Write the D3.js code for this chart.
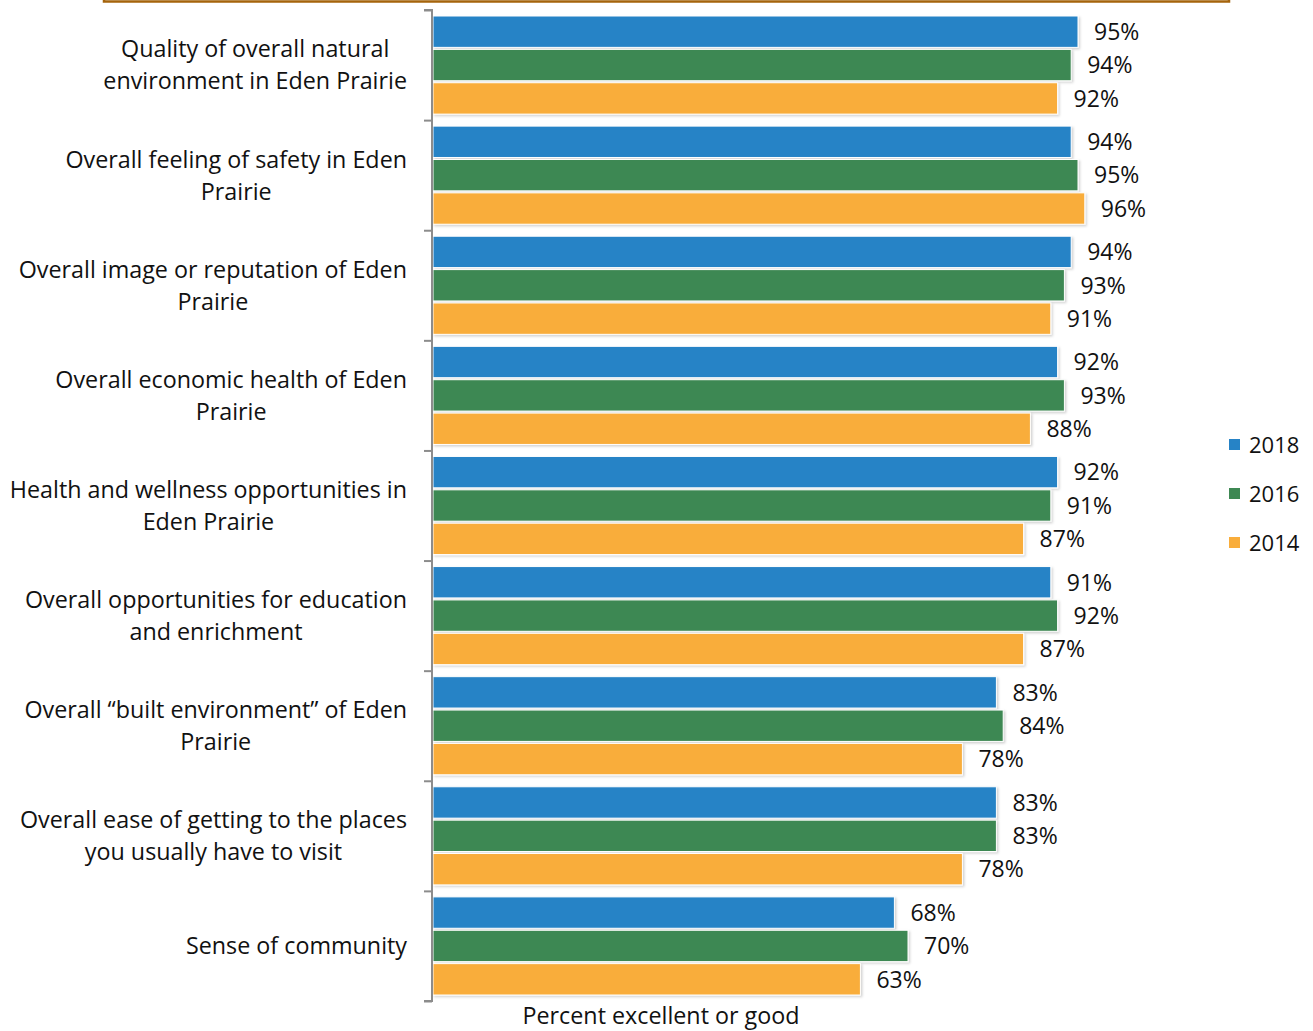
<!DOCTYPE html>
<html><head><meta charset="utf-8">
<script src="https://cdn.jsdelivr.net/npm/d3@7"></script>
<style>body{margin:0;background:#fff}svg{display:block}text{font-family:"Open Sans",Lato,sans-serif;fill:#111}</style>
</head><body>
<svg id="c" width="1313" height="1031"></svg>
<script>
const categories = [
  ["Quality of overall natural","environment in Eden Prairie"],
  ["Overall feeling of safety in Eden","Prairie"],
  ["Overall image or reputation of Eden","Prairie"],
  ["Overall economic health of Eden","Prairie"],
  ["Health and wellness opportunities in","Eden Prairie"],
  ["Overall opportunities for education","and enrichment"],
  ["Overall \u201cbuilt environment\u201d of Eden","Prairie"],
  ["Overall ease of getting to the places","you usually have to visit"],
  ["Sense of community"]
];
const seriesNames = ["2018","2016","2014"];
const values2018 = [95,94,94,92,92,91,83,83,68];
const values2016 = [94,95,93,93,91,92,84,83,70];
const values2014 = [92,96,91,88,87,87,78,78,63];
const colors = ["#2683C6","#3E8853","#F9AD3B"];
const axisTitle = "Percent excellent or good";

const seriesValues = [values2018, values2016, values2014];
const svg = d3.select("#c");

// top frame fragment
svg.append("rect").attr("x",104).attr("y",-10).attr("width",1125).attr("height",11.5)
  .attr("fill","none").attr("stroke","#A5640C").attr("stroke-width",2.5);

const defs = svg.append("defs");
const f = defs.append("filter").attr("id","sh").attr("x","-5%").attr("y","-20%").attr("width","110%").attr("height","150%");
f.append("feDropShadow").attr("dx",1.5).attr("dy",1.5).attr("stdDeviation",1).attr("flood-color","#000").attr("flood-opacity",0.18);

const x = d3.scaleLinear().domain([0,100]).range([432, 432+680]);
const y = d3.scaleBand().domain(d3.range(categories.length)).range([10,1001]).padding(0);
const ys = d3.scaleBand().domain(seriesNames).range([6, y.bandwidth()-6]).paddingInner(0.06);

const g = svg.append("g");
categories.forEach((cat,i)=>{
  const gg = g.append("g").attr("transform",`translate(0,${y(i)})`);
  seriesNames.forEach((s,j)=>{
    const v = seriesValues[j][i];
    gg.append("rect").attr("x",x(0)+1).attr("y",ys(s)).attr("width",x(v)-x(0)-1).attr("height",ys.bandwidth())
      .attr("fill",colors[j]).attr("stroke","#fff").attr("stroke-width",1).attr("filter","url(#sh)");
    gg.append("text").attr("x",x(v)+16).attr("y",ys(s)+ys.bandwidth()/2).attr("dy","0.36em")
      .attr("font-size",23).text(v+"%");
  });
  // category label
  const lt = gg.append("text").attr("font-size",23.3).attr("text-anchor","middle");
  const n = cat.length;
  cat.forEach((line,k)=>{
    lt.append("tspan").attr("x",0).attr("y",y.bandwidth()/2 + (k-(n-1)/2)*32).attr("dy","0.36em").text(line);
  });
  let maxW = 0;
  lt.selectAll("tspan").each(function(){maxW=Math.max(maxW,this.getComputedTextLength());});
  lt.selectAll("tspan").attr("x",407-maxW/2);
});

// axis
const ax = d3.axisLeft(d3.scaleLinear().domain([0,categories.length]).range([10,1001]))
  .tickValues(d3.range(categories.length+1)).tickSize(8).tickFormat("");
const axg = svg.append("g").attr("transform","translate(432,0)").call(ax);
axg.selectAll("path,line").attr("stroke","#8c8c8c").attr("stroke-width",2);
axg.select("path").attr("d","M-8,10H0V1001H-8");

svg.append("text").attr("x",661).attr("y",1024).attr("text-anchor","middle").attr("font-size",23.3).text(axisTitle);

// legend
const leg = svg.append("g");
seriesNames.forEach((s,j)=>{
  const ly = 445 + j*49;
  leg.append("rect").attr("x",1229).attr("y",ly-6).attr("width",11).attr("height",11).attr("fill",colors[j]);
  leg.append("text").attr("x",1249).attr("y",ly).attr("dy","0.36em").attr("font-size",22).text(s);
});
</script>
</body></html>
